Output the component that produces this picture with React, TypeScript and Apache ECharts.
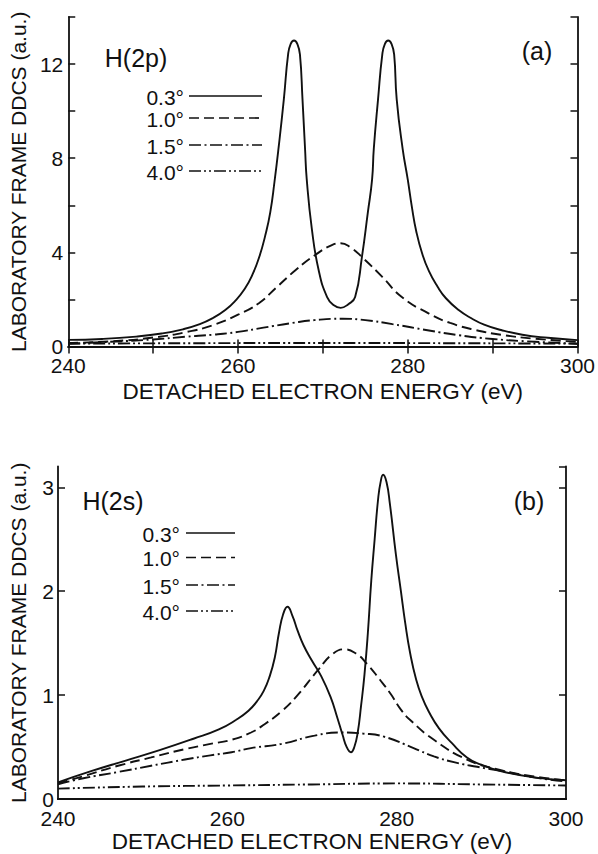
import React, { useEffect, useRef } from 'react';
import * as echarts from 'echarts';

// ---------- Panel (a): H(2p) ----------
const a03E = [240, 244, 248, 251, 253.5, 255.5, 257, 258.5, 259.7, 260.8, 261.7, 262.5, 263.2, 263.8, 264.3, 264.8, 265.4, 265.9, 266.2, 266.6, 267.0, 267.3, 267.6, 267.9, 268.1, 268.7, 269.5, 270.5, 271.3, 272.1, 273.0, 273.8, 274.6, 275.3, 275.8, 276.0, 276.5, 277.0, 277.3, 277.7, 278.1, 278.4, 278.7, 279.4, 280.0, 280.5, 281.0, 281.7, 282.5, 283.5, 284.5, 286, 287.5, 289, 291, 293.5, 296.5, 300];
const a03V = [0.28, 0.32, 0.42, 0.55, 0.73, 0.95, 1.2, 1.55, 1.95, 2.45, 3.05, 3.8, 4.7, 5.7, 7.0, 8.5, 10.5, 12.4, 12.85, 13.0, 12.85, 12.4, 10.5, 8.4, 7.1, 5.0, 3.25, 2.1, 1.75, 1.64, 1.8, 2.1, 3.8, 5.7, 7.1, 8.4, 10.5, 12.4, 12.85, 13.0, 12.85, 12.4, 10.5, 8.4, 7.1, 5.9, 4.9, 3.95, 3.2, 2.55, 2.05, 1.55, 1.2, 0.93, 0.7, 0.5, 0.37, 0.27];

const a10E = [240, 245, 250, 254, 257, 260, 262.5, 264.5, 266.8, 269.1, 271, 272.1, 273.3, 274.6, 277.0, 279.3, 282.5, 285, 288, 291, 295, 300];
const a10V = [0.15, 0.22, 0.38, 0.62, 0.9, 1.35, 1.85, 2.5, 3.25, 3.89, 4.3, 4.39, 4.2, 3.8, 2.96, 2.1, 1.4, 1.0, 0.7, 0.5, 0.33, 0.2];

const a15E = [240, 245, 250, 254, 257, 260, 263, 266.4, 269, 272.3, 275, 278.2, 282.5, 286, 290, 295, 300];
const a15V = [0.12, 0.2, 0.3, 0.42, 0.5, 0.62, 0.8, 1.0, 1.12, 1.18, 1.12, 0.95, 0.68, 0.48, 0.32, 0.2, 0.12];

const a40E = [240, 255, 270, 285, 300];
const a40V = [0.12, 0.14, 0.15, 0.14, 0.12];

// ---------- Panel (b): H(2s) ----------
const b03E = [240, 244, 248, 252, 256, 259, 261, 262.5, 263.5, 264.3, 265.0, 265.6, 266.1, 266.6, 267.1, 267.7, 268.3, 269.0, 270.0, 271.1, 272.2, 273.0, 273.6, 274.1, 274.6, 275.0, 275.4, 275.8, 276.2, 276.6, 277.0, 277.4, 277.8, 278.1, 278.4, 278.8, 279.2, 279.9, 280.5, 281.0, 281.6, 282.3, 283.0, 283.8, 285.0, 286.5, 288.3, 290, 292.2, 296, 300];
const b03V = [0.16, 0.27, 0.37, 0.47, 0.58, 0.67, 0.76, 0.85, 0.94, 1.04, 1.18, 1.36, 1.6, 1.78, 1.85, 1.76, 1.62, 1.48, 1.33, 1.18, 0.98, 0.78, 0.62, 0.5, 0.45, 0.5, 0.64, 0.9, 1.2, 1.6, 2.1, 2.5, 2.88, 3.05, 3.12, 3.05, 2.84, 2.36, 2.0, 1.7, 1.4, 1.15, 0.98, 0.84, 0.68, 0.54, 0.4, 0.33, 0.27, 0.21, 0.18];

const b10E = [240, 243, 247.1, 251, 255, 258, 260.5, 262.8, 264.4, 266.5, 268.3, 270.7, 272.5, 273.8, 275.2, 276.5, 278, 279.3, 280.5, 281.6, 284.4, 288.3, 292.2, 296, 300];
const b10V = [0.15, 0.22, 0.32, 0.4, 0.48, 0.53, 0.57, 0.64, 0.72, 0.85, 1.0, 1.24, 1.4, 1.44, 1.4, 1.3, 1.15, 1.01, 0.86, 0.76, 0.57, 0.38, 0.28, 0.22, 0.18];

const b15E = [240, 243, 247.1, 251, 255, 258, 260.5, 262.8, 266.4, 270.3, 273.4, 276, 278.5, 282, 284.4, 287, 289.5, 293, 296, 300];
const b15V = [0.14, 0.2, 0.26, 0.32, 0.38, 0.42, 0.45, 0.49, 0.53, 0.61, 0.64, 0.63, 0.6, 0.49, 0.41, 0.35, 0.31, 0.26, 0.21, 0.17];

const b40E = [240, 250, 260, 270, 280, 290, 300];
const b40V = [0.1, 0.12, 0.13, 0.14, 0.15, 0.14, 0.13];

const angleLabels = ['0.3°', '1.0°', '1.5°', '4.0°'];
const panelLabels = ['H(2p)', 'H(2s)'];
const panelTags = ['(a)', '(b)'];
const xTitle = 'DETACHED ELECTRON ENERGY (eV)';
const yTitle = 'LABORATORY FRAME DDCS (a.u.)';

const FONT = '"Liberation Sans", Arial, Helvetica, sans-serif';
const INK = '#111';
const DASHES: (number[] | 'solid')[] = ['solid', [10, 5], [12, 3.5, 2, 3.5], [12, 3, 2, 3, 2, 3]];

const zip = (xs: number[], ys: number[]) => xs.map((x, i) => [x, ys[i]]);

export default function App() {
  const ref = useRef<HTMLDivElement>(null);
  useEffect(() => {
    document.body.style.margin = '0';
    if (!ref.current) return;
    const chart = echarts.init(ref.current, null, { renderer: 'svg' });

    const G = [
      { left: 68, top: 17, width: 510, height: 329.5 },
      { left: 56, top: 466.5, width: 510, height: 333.5 },
    ];

    const frameLine = { show: true, lineStyle: { color: INK, width: 1.8 } };
    const baseX = (grid: number, ticks: boolean) => ({
      type: 'value', gridIndex: grid, min: 240, max: 300, interval: 10,
      axisLine: frameLine, splitLine: { show: false },
      axisTick: { show: ticks, inside: true, length: 7, lineStyle: { color: INK, width: 1.5 } },
    });
    const xAxes = [
      { ...baseX(0, true), position: 'bottom',
        axisLabel: { color: INK, fontSize: 21, fontFamily: FONT, margin: 8, formatter: (v: number) => (v % 20 === 0 ? String(v) : '') },
        name: xTitle, nameLocation: 'middle', nameGap: 33,
        nameTextStyle: { color: INK, fontSize: 22.5, fontFamily: FONT } },
      { ...baseX(0, true), position: 'top', axisLabel: { show: false } },
      { ...baseX(1, false), position: 'bottom',
        axisLabel: { color: INK, fontSize: 21, fontFamily: FONT, margin: 9, formatter: (v: number) => (v % 20 === 0 ? String(v) : '') },
        name: xTitle, nameLocation: 'middle', nameGap: 31,
        nameTextStyle: { color: INK, fontSize: 22.5, fontFamily: FONT } },
      { ...baseX(1, false), position: 'top', axisLabel: { show: false } },
    ];
    const baseY = (grid: number, max: number, interval: number) => ({
      type: 'value', gridIndex: grid, min: 0, max, interval,
      axisLine: frameLine, splitLine: { show: false },
      axisTick: { show: true, inside: true, length: 7, lineStyle: { color: INK, width: 1.5 } },
    });
    const yAxes = [
      { ...baseY(0, 14, 2), position: 'left',
        axisLabel: { color: INK, fontSize: 21, fontFamily: FONT, margin: 5, formatter: (v: number) => (v % 4 === 0 ? String(v) : '') },
        name: yTitle, nameLocation: 'middle', nameGap: 30, nameRotate: 90,
        nameTextStyle: { color: INK, fontSize: 21, fontFamily: FONT } },
      { ...baseY(0, 14, 2), position: 'right', axisLabel: { show: false } },
      { ...baseY(1, 3.2, 1), position: 'left',
        axisLabel: { color: INK, fontSize: 21, fontFamily: FONT, margin: 4, showMaxLabel: false, formatter: (v: number) => (Number.isInteger(v) ? String(v) : '') },
        name: yTitle, nameLocation: 'middle', nameGap: 29, nameRotate: 90,
        nameTextStyle: { color: INK, fontSize: 21, fontFamily: FONT } },
      { ...baseY(1, 3.2, 1), position: 'right', axisLabel: { show: false } },
    ];

    const mk = (name: string, xs: number[], ys: number[], dash: number[] | 'solid', panel: number) => ({
      name, type: 'line', xAxisIndex: panel * 2, yAxisIndex: panel * 2,
      data: zip(xs, ys), showSymbol: false, symbol: 'none', smooth: 0.5,
      lineStyle: { color: INK, width: 1.9, type: dash },
      silent: true,
    });

    const series = [
      mk('a 0.3°', a03E, a03V, DASHES[0], 0),
      mk('a 1.0°', a10E, a10V, DASHES[1], 0),
      mk('a 1.5°', a15E, a15V, DASHES[2], 0),
      mk('a 4.0°', a40E, a40V, DASHES[3], 0),
      mk('b 0.3°', b03E, b03V, DASHES[0], 1),
      mk('b 1.0°', b10E, b10V, DASHES[1], 1),
      mk('b 1.5°', b15E, b15V, DASHES[2], 1),
      mk('b 4.0°', b40E, b40V, DASHES[3], 1),
    ];

    const legendLayouts = [
      { textRight: 184, x1: 189, x2: 262, ys: [96, 118, 145, 171] },
      { textRight: 180, x1: 186, x2: 235, ys: [533, 557.5, 585, 611] },
    ];
    const graphics: any[] = [];
    legendLayouts.forEach((L) => {
      angleLabels.forEach((lab, i) => {
        graphics.push({
          type: 'text', x: L.textRight, y: L.ys[i] + 1,
          style: { text: lab, font: `21px ${FONT}`, fill: INK, align: 'right', verticalAlign: 'middle' },
        });
        const d = DASHES[i];
        graphics.push({
          type: 'line', shape: { x1: L.x1, y1: L.ys[i], x2: L.x2, y2: L.ys[i] },
          style: { stroke: INK, lineWidth: 1.7, lineDash: d === 'solid' ? null : d },
        });
      });
    });
    graphics.push({ type: 'text', x: 136, y: 58, style: { text: panelLabels[0], font: `25px ${FONT}`, fill: INK, align: 'center', verticalAlign: 'middle' } });
    graphics.push({ type: 'text', x: 113, y: 501, style: { text: panelLabels[1], font: `25px ${FONT}`, fill: INK, align: 'center', verticalAlign: 'middle' } });
    graphics.push({ type: 'text', x: 537, y: 51, style: { text: panelTags[0], font: `25px ${FONT}`, fill: INK, align: 'center', verticalAlign: 'middle' } });
    graphics.push({ type: 'text', x: 529, y: 501, style: { text: panelTags[1], font: `25px ${FONT}`, fill: INK, align: 'center', verticalAlign: 'middle' } });

    chart.setOption({
      animation: false,
      backgroundColor: '#fff',
      grid: G,
      xAxis: xAxes,
      yAxis: yAxes,
      series,
      graphic: graphics,
    } as any);
    return () => chart.dispose();
  }, []);
  return <div ref={ref} style={{ width: 598, height: 854 }} />;
}
